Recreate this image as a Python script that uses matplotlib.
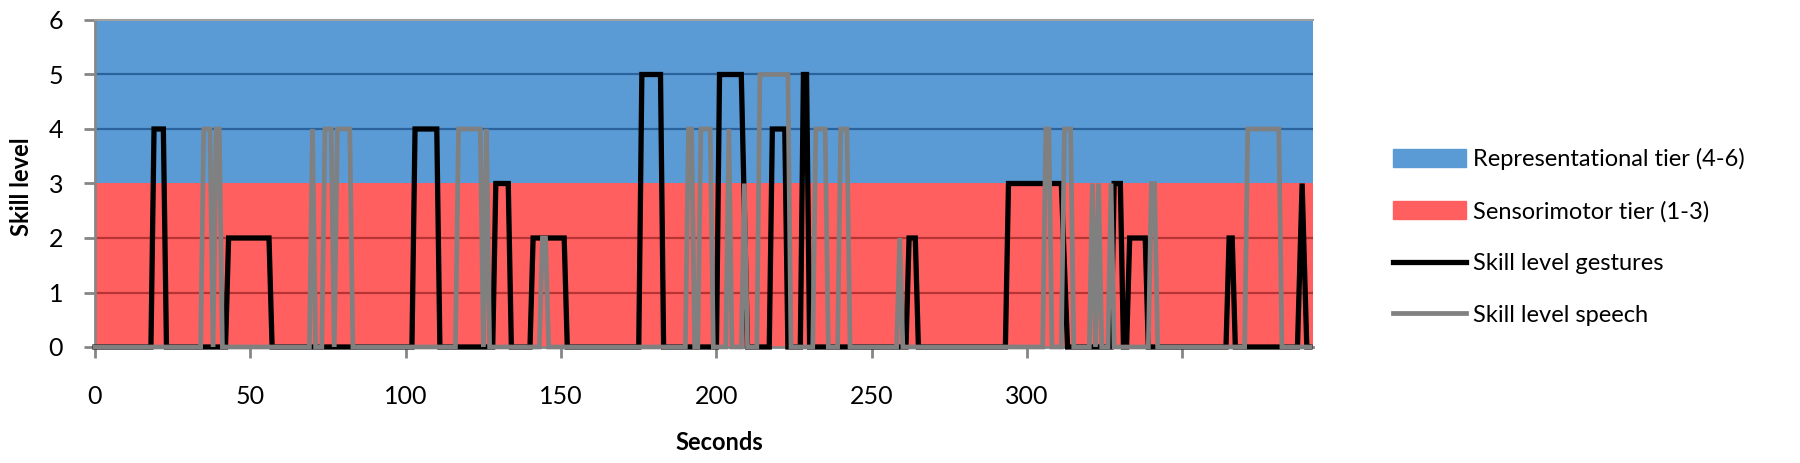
import matplotlib.pyplot as plt
from matplotlib.patches import Patch
from matplotlib.lines import Line2D

# skill level over time (seconds) for gestures and speech
gesture_t = [0, 18, 19, 22, 23, 42, 43, 56, 57, 102, 103, 110, 111, 128, 129, 133, 134,
             140, 141, 151, 152, 175, 176, 182, 183, 200, 201, 208, 210, 217, 218, 222, 223,
             227, 228, 229, 230, 261, 262, 264, 265, 293, 294, 311, 313, 327, 328, 330, 331,
             332, 333, 338, 339, 364, 365, 366, 367, 387, 388.5, 390, 391]
gesture_lvl = [0, 0, 4, 4, 0, 0, 2, 2, 0, 0, 4, 4, 0, 0, 3, 3, 0,
               0, 2, 2, 0, 0, 5, 5, 0, 0, 5, 5, 0, 0, 4, 4, 0,
               0, 5, 5, 0, 0, 2, 2, 0, 0, 3, 3, 0, 0, 3, 3, 0,
               0, 2, 2, 0, 0, 2, 2, 0, 0, 3, 0, 0]

speech_t = [0, 34, 35, 37, 38, 39, 40, 41, 69, 70, 71, 73, 74, 76, 77, 78, 82, 83,
            116, 117, 124, 125, 126, 127, 143, 144, 145, 146, 190, 191, 192, 193,
            194, 195, 198, 199, 203, 204, 205, 208, 209, 210, 213, 214, 223, 224,
            231, 232, 235, 236, 239, 240, 242, 243, 258, 259, 260, 305, 306, 307, 308,
            311, 312, 314, 315, 320, 321, 322, 323, 324, 326, 327, 328,
            339, 340, 341, 342, 370, 371, 381, 382, 391]
speech_lvl = [0, 0, 4, 4, 0, 4, 4, 0, 0, 4, 0, 0, 4, 4, 0, 4, 4, 0,
              0, 4, 4, 0, 4, 0, 0, 2, 2, 0, 0, 4, 4, 0,
              0, 4, 4, 0, 0, 4, 0, 0, 3, 0, 0, 5, 5, 0,
              0, 4, 4, 0, 0, 4, 4, 0, 0, 2, 0, 0, 4, 4, 0,
              0, 4, 4, 0, 0, 3, 0, 3, 0, 0, 3, 0,
              0, 3, 3, 0, 0, 4, 4, 0, 0]

# tiers
tier_names = ['Representational tier (4-6)', 'Sensorimotor tier (1-3)']
tier_low = [3, 0]
tier_high = [6, 3]
tier_colors = ['#5B9BD5', '#FF5F5F']
grid_colors = ['#2A639C', '#B83434']

x_end = 392
xticks = [0, 50, 100, 150, 200, 250, 300, 350]
xtick_labels = ['0', '50', '100', '150', '200', '250', '300', '']

plt.rcParams['font.family'] = ['Lato', 'DejaVu Sans']

fig = plt.figure(figsize=(18, 4.63), dpi=100)
ax = fig.add_axes([95 / 1800, 1 - 347 / 463, (1313 - 95) / 1800, (347 - 20) / 463])

for lo, hi, c, gc in zip(tier_low, tier_high, tier_colors, grid_colors):
    ax.fill_between([0, x_end], lo, hi, color=c, lw=0, zorder=0)
    for y in range(lo + 1, hi):
        ax.axhline(y, color=gc, lw=1.6, zorder=1)

ax.plot(gesture_t, gesture_lvl, color='black', lw=3.8, zorder=4, clip_on=False,
        solid_joinstyle='miter')
ax.plot(speech_t, speech_lvl, color='#808080', lw=3.4, zorder=5, clip_on=False,
        solid_joinstyle='miter')

ax.set_xlim(0, x_end)
ax.set_ylim(0, 6)
ax.set_xticks(xticks)
ax.set_xticklabels(xtick_labels)
ax.set_yticks(range(0, 7))

for s in ['left', 'bottom']:
    ax.spines[s].set_color('#868686')
    ax.spines[s].set_linewidth(2)
ax.spines['top'].set_color('#A0A0A0')
ax.spines['top'].set_linewidth(1.5)
ax.spines['right'].set_visible(False)
ax.tick_params(axis='both', colors='#868686', width=2, length=8, labelsize=18,
               labelcolor='black')
ax.tick_params(axis='y', pad=15)
ax.tick_params(axis='x', pad=19)

fig.text(719 / 1800, 1 - 442 / 463, 'Seconds', ha='center', va='center',
         fontsize=17, fontweight='bold')
fig.text(22 / 1800, 1 - 187 / 463, 'Skill level', ha='center', va='center',
         rotation=90, fontsize=17, fontweight='bold')

handles = [Patch(color=tier_colors[0]), Patch(color=tier_colors[1]),
           Line2D([], [], color='black', lw=3.8), Line2D([], [], color='#808080', lw=3.4)]
labels = tier_names + ['Skill level gestures', 'Skill level speech']
fig.legend(handles, labels, loc='upper left', bbox_to_anchor=(1393 / 1800, 1 - 148 / 463),
           frameon=False, fontsize=17, handlelength=3.1, handleheight=0.75,
           handletextpad=0.3, labelspacing=1.3, borderpad=0, borderaxespad=0)

fig.savefig('out.png', dpi=100)
